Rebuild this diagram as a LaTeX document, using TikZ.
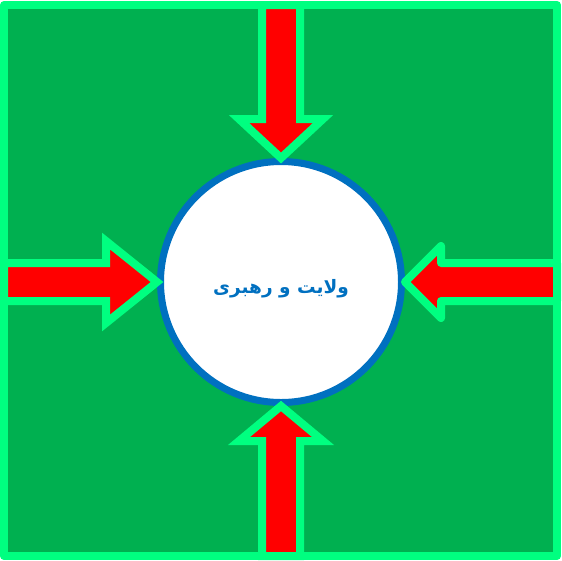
\documentclass[tikz,border=0pt]{standalone}
\usepackage{fontspec}
\newfontfamily\arabicfont[Script=Arabic]{DejaVu Sans}
\TeXXeTstate=1
\definecolor{fieldgreen}{RGB}{0,176,80}
\definecolor{springgreen}{RGB}{0,255,128}
\definecolor{ringblue}{RGB}{0,112,192}
\definecolor{arrowred}{RGB}{255,0,0}

\begin{document}
\begin{tikzpicture}[x=1pt, y=-1pt,
    blockarrow/.style={draw=springgreen, fill=arrowred, line width=8pt}]
    \useasboundingbox (0,0) rectangle (562,560);

    % Green field
    \fill[fieldgreen] (4,5) rectangle (557,556);

    % Central circle
    \node[circle, draw=ringblue, line width=7pt, fill=white, minimum size=241pt, inner sep=0pt,
          text=ringblue, font=\arabicfont\bfseries\fontsize{18.5}{22}\selectfont] (core) at (281,282)
          {\raisebox{-11pt}[0pt][0pt]{\beginR ولایت و رهبری\endR}};

    % Arrows pointing into the circle
    \draw[blockarrow] (262,5) -- (262,119) -- (239,119) -- (core.north) -- (323,119) -- (300,119) -- (300,5) -- cycle;
    \draw[blockarrow] (4,263) -- (106,263) -- (106,241) -- (core.west) -- (106,323) -- (106,301) -- (4,301) -- cycle;
    \draw[blockarrow, line join=round] (557,263) -- (441,263) -- (441,246) -- (core.east) -- (441,318) -- (441,301) -- (557,301) -- cycle;
    \draw[blockarrow] (262,556) -- (262,441) -- (239,441) -- (core.south) -- (323,441) -- (300,441) -- (300,556) -- cycle;

    % Outer frame
    \draw[springgreen, line width=8pt, line join=round] (4,5) rectangle (557,556);
\end{tikzpicture}
\end{document}
